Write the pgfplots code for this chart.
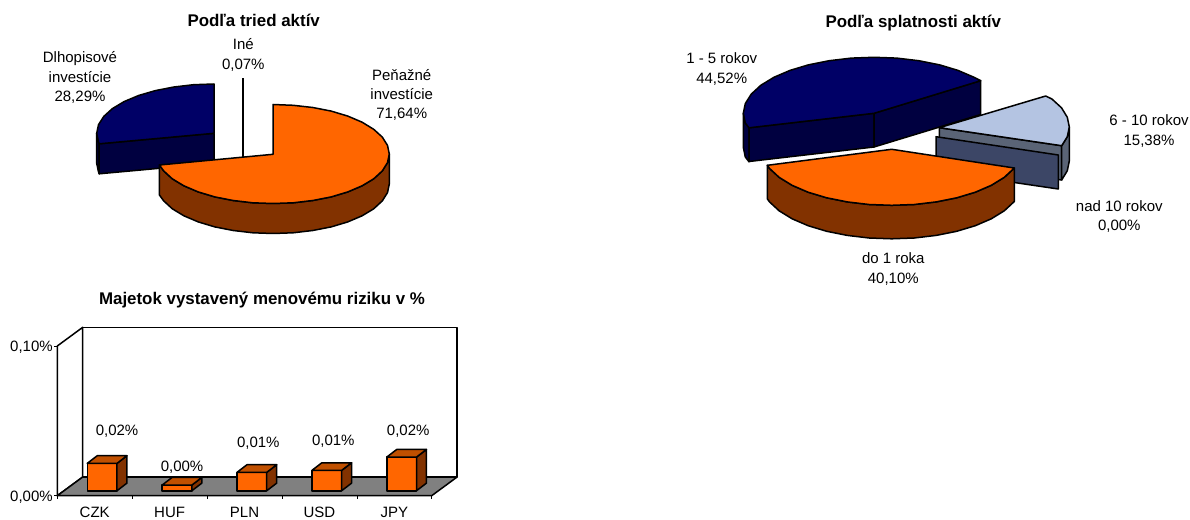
\documentclass[border=0pt]{standalone}
\usepackage{pgfplots}
\pgfplotsset{compat=1.18}
\usepackage{fontspec}
\setmainfont{Liberation Sans}
\definecolor{orangetop}{HTML}{FF6600}
\definecolor{orangeside}{HTML}{823200}
\definecolor{orangelid}{HTML}{C05000}
\definecolor{navytop}{HTML}{000066}
\definecolor{navyside}{HTML}{000040}
\definecolor{lighttop}{HTML}{B4C4E2}
\definecolor{lightside}{HTML}{5A6476}
\definecolor{slateside}{HTML}{3C4666}
\definecolor{floorgray}{HTML}{808080}
\newcommand{\lbl}{\fontsize{15}{19.2}\selectfont}
\newcommand{\ttl}{\bfseries\fontsize{16.9}{19}\selectfont}
% front, side and lid of one bar: xl, xr, xl back, xr back, top, top back
\newcommand{\tdbar}[6]{
	\addplot[face, fill=orangetop] coordinates {(#1,0.0033) (#2,0.0033) (#2,#5) (#1,#5)} --cycle;
	\addplot[face, fill=orangeside] coordinates {(#2,0.0033) (#4,0.0084) (#4,#6) (#2,#5)} --cycle;
	\addplot[face, fill=orangelid] coordinates {(#1,#5) (#2,#5) (#4,#6) (#3,#6)} --cycle;
}
\begin{document}
\begin{tikzpicture}[
		face/.style={draw=black, line width=1.5pt, line join=round},
	]
	\path[use as bounding box] (0,0) rectangle (1190pt,519pt);
	% both pies, coordinates are pixels of the picture
	\begin{axis}[
		at={(0,0)}, anchor=south west,
		scale only axis, width=1190pt, height=519pt,
		xmin=0, xmax=1190, ymin=0, ymax=519,
		y dir=reverse, hide axis, clip=false,
	]
		% left pie: Dlhopisove
		\addplot[face, fill=navyside] coordinates {(96.7,133.3) (98.5,141.9) (99.2,143.8) (99.2,173.8) (98.5,171.9) (96.7,163.3)} --cycle;
		\addplot[face, fill=navyside] coordinates {(99.2,143.8) (214,133.3) (214,163.3) (99.2,173.8)} --cycle;
		\addplot[face, fill=navytop] coordinates {(214,133.3) (99.2,143.8) (98.5,141.9) (96.7,133.3) (98.5,124.7) (103.8,116.4) (112.4,108.6) (124.1,101.6) (138.6,95.5) (155.4,90.6) (173.9,87) (193.6,84.7) (214,84)} --cycle;
		% left pie: Ine
		\addplot[black, line width=1.6pt] coordinates {(242.7,78.3) (242.7,157)};
		% left pie: Penazne
		\addplot[face, fill=orangeside] coordinates {(389.3,154) (387.5,162.6) (382.3,170.9) (373.7,178.8) (362.1,185.8) (347.8,191.9) (331.2,196.9) (312.8,200.5) (293.2,202.8) (273,203.5) (252.8,202.8) (233.2,200.5) (214.8,196.9) (198.2,191.9) (183.9,185.8) (172.3,178.8) (163.7,170.9) (159.4,165) (159.4,195) (163.7,200.9) (172.3,208.8) (183.9,215.8) (198.2,221.9) (214.8,226.9) (233.2,230.5) (252.8,232.8) (273,233.5) (293.2,232.8) (312.8,230.5) (331.2,226.9) (347.8,221.9) (362.1,215.8) (373.7,208.8) (382.3,200.9) (387.5,192.6) (389.3,184)} --cycle;
		\addplot[face, fill=orangetop] coordinates {(273,154.3) (273,104.5) (293.2,105.3) (312.8,107.5) (331.2,111.1) (347.8,116.1) (362.1,122.2) (373.7,129.3) (382.3,137.1) (387.5,145.4) (389.3,154) (387.5,162.6) (382.3,170.9) (373.7,178.8) (362.1,185.8) (347.8,191.9) (331.2,196.9) (312.8,200.5) (293.2,202.8) (273,203.5) (252.8,202.8) (233.2,200.5) (214.8,196.9) (198.2,191.9) (183.9,185.8) (172.3,178.8) (163.7,170.9) (159.4,165)} --cycle;

		% right pie: 1 - 5 rokov
		\addplot[face, fill=navyside] coordinates {(743.3,113.3) (745.3,123) (749,127.8) (749,161.8) (745.3,157) (743.3,147.3)} --cycle;
		\addplot[face, fill=navyside] coordinates {(749,127.8) (874,113.3) (874,147) (749,161.5)} --cycle;
		\addplot[face, fill=navyside] coordinates {(874,113.3) (980.7,80.7) (980.7,114.5) (874,147)} --cycle;
		\addplot[face, fill=navytop] coordinates {(874,113.3) (749,127.8) (745.3,123) (743.3,113.3) (745.3,103.6) (751.2,94.2) (760.8,85.3) (773.9,77.3) (790,70.4) (808.6,64.8) (829.3,60.7) (851.3,58.1) (874,57.3) (896.7,58.1) (918.7,60.7) (939.4,64.8) (958,70.4) (974.1,77.3) (980.7,80.7)} --cycle;
		% right pie: 6 - 10 rokov
		\addplot[face, fill=lightside] coordinates {(939.3,127.7) (1061.7,145.7) (1061.7,180) (939.3,162)} --cycle;
		\addplot[face, fill=lightside] coordinates {(1069.3,127) (1067.3,136.7) (1061.7,145.7) (1061.7,180) (1067.3,170.7) (1069.3,161)} --cycle;
		\addplot[face, fill=lighttop] coordinates {(939.3,127.7) (1045.7,96) (1051.9,99) (1061.5,107.8) (1067.3,117.3) (1069.3,127) (1067.3,136.7) (1061.7,145.7)} --cycle;
		% right pie: nad 10 rokov
		\addplot[face, fill=slateside] coordinates {(936,136.7) (1058.3,155) (1058.3,189) (936,171)} --cycle;
		% right pie: do 1 roka
		\addplot[face, fill=orangeside] coordinates {(1014.3,168) (1004.3,177.3) (991.3,185.3) (975.3,192.2) (956.7,197.8) (936.2,201.9) (914.3,204.5) (891.7,205.3) (869.1,204.5) (847.2,201.9) (826.7,197.8) (808.1,192.2) (792.1,185.3) (779.1,177.3) (769.5,168.4) (767.3,165.3) (767.3,198.8) (769.5,201.9) (779.1,210.8) (792.1,218.8) (808.1,225.7) (826.7,231.3) (847.2,235.4) (869.1,238) (891.7,238.8) (914.3,238) (936.2,235.4) (956.7,231.3) (975.3,225.7) (991.3,218.8) (1004.3,210.8) (1014.3,201.5)} --cycle;
		\addplot[face, fill=orangetop] coordinates {(891.7,149.3) (1014.3,168) (1004.3,177.3) (991.3,185.3) (975.3,192.2) (956.7,197.8) (936.2,201.9) (914.3,204.5) (891.7,205.3) (869.1,204.5) (847.2,201.9) (826.7,197.8) (808.1,192.2) (792.1,185.3) (779.1,177.3) (769.5,168.4) (767.3,165.3)} --cycle;

		% titles and labels
		\node[font=\ttl] at (axis cs:253.7,20.5) {Podľa tried aktív};
		\node[font=\ttl] at (axis cs:913.3,23.5) {Podľa splatnosti aktív};
		\node[font=\ttl] at (axis cs:262,300.5) {Majetok vystavený menovému riziku v \%};
		\node[font=\lbl, align=center] at (axis cs:80,77.5) {Dlhopisové\\investície\\28,29\%};
		\node[font=\lbl, align=center] at (axis cs:243.3,55) {Iné\\0,07\%};
		\node[font=\lbl, align=center] at (axis cs:401.7,95) {Peňažné\\investície\\71,64\%};
		\node[font=\lbl, align=center] at (axis cs:721.7,69) {1 - 5 rokov\\44,52\%};
		\node[font=\lbl, align=center] at (axis cs:1149,131) {6 - 10 rokov\\15,38\%};
		\node[font=\lbl, align=center] at (axis cs:1119.3,216.5) {nad 10 rokov\\0,00\%};
		\node[font=\lbl, align=center] at (axis cs:893.3,269) {do 1 roka\\40,10\%};
	\end{axis}
	% bars, y in percent
	\begin{axis}[
		at={(57.3pt,23.3pt)}, anchor=south west,
		scale only axis, width=374.4pt, height=149.7pt,
		xmin=-0.5, xmax=4.5, ymin=0, ymax=0.1,
		clip=false, axis on top,
		axis x line*=bottom, axis y line*=left,
		axis line style={black, line width=1.5pt, -},
		xtick={0,1,2,3,4},
		xticklabels={CZK,HUF,PLN,USD,JPY},
		ytick={0,0.1},
		yticklabels={{0,00\%},{0,10\%}},
		minor xtick={-0.5,0.5,1.5,2.5,3.5,4.5},
		minor ytick={0,0.1},
		tickwidth=0pt, subtickwidth=3pt,
		tick align=outside,
		every tick/.style={black, line width=0.6pt},
		tick label style={font=\lbl},
		xticklabel style={yshift=-8pt},
		yticklabel style={xshift=-1pt, yshift=-1.5pt},
	]
		% walls and floor
		\addplot[face, fill=white] coordinates {(-0.161,0.01247) (4.839,0.01247) (4.839,0.11247) (-0.161,0.11247)} --cycle;
		\addplot[face, fill=white] coordinates {(-0.5,0) (-0.161,0.01247) (-0.161,0.11247) (-0.5,0.1)} --cycle;
		\addplot[face, fill=floorgray] coordinates {(-0.5,0) (-0.161,0.01247) (4.839,0.01247) (4.5,0)} --cycle;
		% xl, xr, xl back, xr back, top, top back
		\tdbar{-0.1}{0.297}{0.033}{0.43}{0.0216}{0.0267}
		\tdbar{0.9}{1.297}{1.033}{1.43}{0.0071}{0.0122}
		\tdbar{1.9}{2.297}{2.033}{2.43}{0.0156}{0.0207}
		\tdbar{2.9}{3.297}{3.033}{3.43}{0.0169}{0.0220}
		\tdbar{3.9}{4.297}{4.033}{4.43}{0.0258}{0.0309}
		% value labels
		\node[font=\lbl] at (axis cs:0.298,0.0431) {0,02\%};
		\node[font=\lbl] at (axis cs:1.166,0.0191) {0,00\%};
		\node[font=\lbl] at (axis cs:2.184,0.0353) {0,01\%};
		\node[font=\lbl] at (axis cs:3.186,0.0364) {0,01\%};
		\node[font=\lbl] at (axis cs:4.186,0.0431) {0,02\%};
	\end{axis}
\end{tikzpicture}
\end{document}
